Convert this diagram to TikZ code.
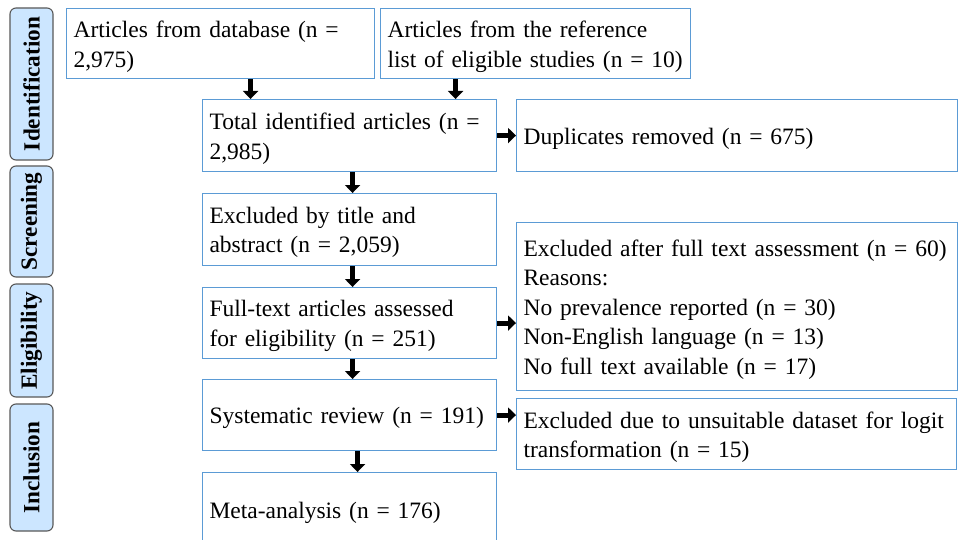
\documentclass[tikz,border=0pt]{standalone}
\usepackage{fontspec}
\setmainfont{Liberation Serif}
\usetikzlibrary{arrows.meta}
\definecolor{boxblue}{RGB}{91,155,213}
\definecolor{tabfill}{RGB}{204,230,255}
\definecolor{tabdraw}{RGB}{89,89,89}
\tikzset{
  box/.style={draw=boxblue, line width=1.1pt, fill=white, anchor=north west,
    inner sep=0pt},
  txt/.style={inner xsep=7pt, inner ysep=0pt, align=left, anchor=center,
    yshift=-3pt, font=\fontsize{23.5}{29.5}\selectfont},
  tab/.style={draw=tabdraw, line width=1.1pt, fill=tabfill, rounded corners=6pt,
    rotate=90, minimum height=43pt, inner sep=0pt,
    font=\bfseries\fontsize{23.2}{26}\selectfont},
  blk/.style={line width=5pt, -{Triangle[width=15pt,length=8pt]}}
}
\begin{document}
\begin{tikzpicture}[x=1pt,y=-1pt]
\clip (0,0) rectangle (960,540);
\fill[white] (0,0) rectangle (960,540);
% stage tabs
\node[tab, minimum width=152pt] (t1) at (31.5,84) {Identification};
\node[tab, minimum width=111pt] (t2) at (31.5,221.5) {Screening};
\node[tab, minimum width=113pt] (t3) at (31.5,340.5) {Eligibility};
\node[tab, minimum width=127pt] (t4) at (31.5,467.5) {Inclusion};
% boxes
\node[box, minimum width=308pt, minimum height=70pt] (b1) at (66,8) {};
\node[txt, text width=294pt] (b1t) at (b1.center) {Articles from database (n =\\2,975)};
\node[box, minimum width=310pt, minimum height=70pt] (b2) at (380,8) {};
\node[txt, text width=296pt] (b2t) at (b2.center) {Articles from the reference\\list of eligible studies (n = 10)};
\node[box, minimum width=294pt, minimum height=72pt] (b3) at (202,99) {};
\node[txt, text width=280pt] (b3t) at (b3.center) {Total identified articles (n =\\2,985)};
\node[box, minimum width=441pt, minimum height=72pt] (b4) at (516,99) {};
\node[txt, text width=427pt] (b4t) at (b4.center) {Duplicates removed (n = 675)};
\node[box, minimum width=294pt, minimum height=72pt] (b5) at (202,193) {};
\node[txt, text width=280pt] (b5t) at (b5.center) {Excluded by title and\\abstract (n = 2,059)};
\node[box, minimum width=441pt, minimum height=168pt] (b6) at (516,222) {};
\node[txt, text width=427pt] (b6t) at (b6.center) {Excluded after full text assessment (n = 60)\\Reasons:\\No prevalence reported (n = 30)\\Non-English language (n = 13)\\No full text available (n = 17)};
\node[box, minimum width=294pt, minimum height=71pt] (b7) at (202,287) {};
\node[txt, text width=280pt] (b7t) at (b7.center) {Full-text articles assessed\\for eligibility (n = 251)};
\node[box, minimum width=294pt, minimum height=71pt] (b8) at (202,379) {};
\node[txt, text width=280pt] (b8t) at (b8.center) {Systematic review (n = 191)};
\node[box, minimum width=440pt, minimum height=71pt] (b9) at (516,398) {};
\node[txt, text width=426pt] (b9t) at (b9.center) {Excluded due to unsuitable dataset for logit\\transformation (n = 15)};
\node[box, minimum width=294pt, minimum height=74pt] (b10) at (202,472) {};
\node[txt, text width=280pt] (b10t) at (b10.center) {Meta-analysis (n = 176)};
% arrows
\draw[blk] ([xshift=30pt]b1.south) -- ([xshift=30pt]b1.south |- b3.north);
\draw[blk] ([xshift=-80pt]b2.south) -- ([xshift=-80pt]b2.south |- b3.north);
\draw[blk] (b3.east) -- (b3.east -| b4.west);
\draw[blk] ([xshift=3pt]b3.south) -- ([xshift=3pt]b5.north);
\draw[blk] ([xshift=3pt]b5.south) -- ([xshift=3pt]b7.north);
\draw[blk] (b7.east) -- (b7.east -| b6.west);
\draw[blk] ([xshift=3pt]b7.south) -- ([xshift=3pt]b8.north);
\draw[blk] (b8.east) -- (b8.east -| b9.west);
\draw[blk] ([xshift=8pt]b8.south) -- ([xshift=8pt]b10.north);
\end{tikzpicture}
\end{document}
